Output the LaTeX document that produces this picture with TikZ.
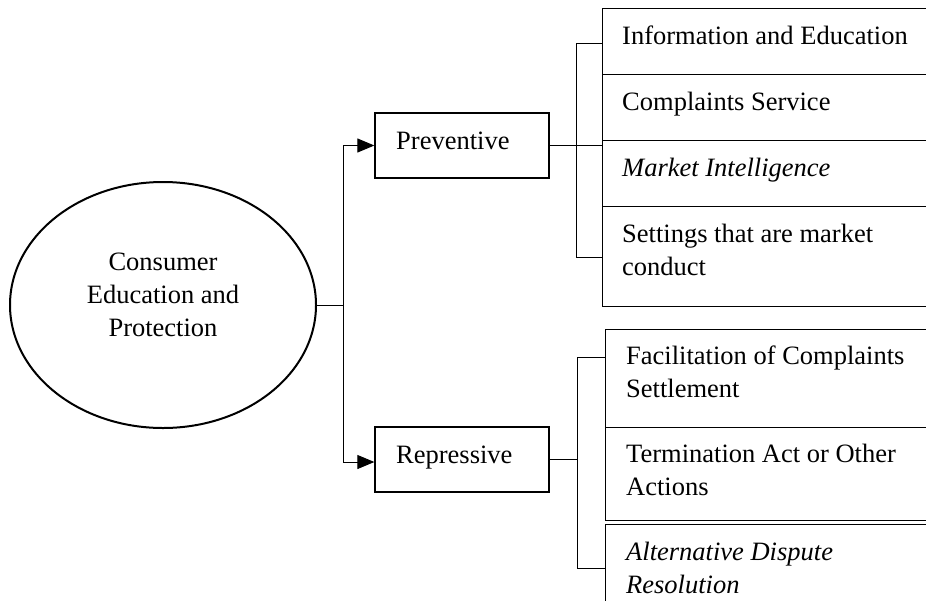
\documentclass[tikz,border=0pt]{standalone}
\usepackage{fontspec}
\setmainfont{Liberation Serif}
\usetikzlibrary{arrows.meta,shapes.geometric}
\newcommand{\mlines}[2][l]{\begin{tabular}[t]{@{}#1@{}}#2\end{tabular}}
\begin{document}
\begin{tikzpicture}[x=1pt,y=-1pt,
  frame/.style={draw, line width=1.3pt, rectangle, inner sep=0pt, anchor=north west, minimum width=345pt},
  mainbox/.style={draw, line width=1.3pt, rectangle, inner sep=0pt, minimum width=174pt, minimum height=65pt},
  lbl/.style={inner sep=0pt, font=\fontsize{26.5}{33}\selectfont},
  conn/.style={draw, line width=1pt},
  arr/.style={-{Triangle[length=17pt,width=14pt]}}]
\useasboundingbox (0,0) rectangle (926,600);
\fill[white] (0,0) rectangle (926,600);
\clip (0,0) rectangle (926,600);

% central ellipse
\node[draw, ellipse, line width=2pt, minimum width=306pt, minimum height=246pt, inner sep=0pt] (ce) at (163,305) {};
\node[lbl, anchor=base] (cet) at (163,270) {\mlines[c]{Consumer\\Education and\\Protection}};

% middle boxes
\node[mainbox] (pv) at (462,145.5) {};
\node[lbl, anchor=base west] (pvt) at (396,149) {Preventive};
\node[mainbox] (rp) at (462,459.5) {};
\node[lbl, anchor=base west] (rpt) at (396,463) {Repressive};

% preventive group
\node[frame, minimum height=66pt] (b1) at (602,8) {};
\node[frame, minimum height=66pt] (b2) at (602,74) {};
\node[frame, minimum height=66pt] (b3) at (602,140) {};
\node[frame, minimum height=100pt] (b4) at (602,206) {};
\node[lbl, anchor=base west] (t1) at (622,44) {Information and Education};
\node[lbl, anchor=base west] (t2) at (622,110) {Complaints Service};
\node[lbl, anchor=base west] (t3) at (622,176) {\itshape Market Intelligence};
\node[lbl, anchor=base west] (t4) at (622,242) {\mlines{Settings that are market\\conduct}};

% repressive group
\node[frame, minimum height=98pt] (c1) at (605,329) {};
\node[frame, minimum height=93pt] (c2) at (605,427) {};
\node[frame, minimum height=92pt] (c3) at (605,524) {};
\node[lbl, anchor=base west] (u1) at (626,364) {\mlines{Facilitation of Complaints\\Settlement}};
\node[lbl, anchor=base west] (u2) at (626,462) {\mlines{Termination Act or Other\\Actions}};
\node[lbl, anchor=base west] (u3) at (626,560) {\mlines{\itshape Alternative Dispute\\\itshape Resolution}};

% connectors from ellipse
\coordinate (j0) at (343,305);
\coordinate (jt) at (343,145.5);
\coordinate (jb) at (343,462);
\draw[conn] (ce.east) -- (j0);
\draw[conn] (jt) -- (jb);
\draw[conn, arr] (jt) -- (pv.west);
\draw[conn, arr] (jb) -- (jb -| rp.west);

% preventive bracket
\coordinate (pt) at (576,43);
\coordinate (pb) at (576,257);
\draw[conn] (pt) -- (pb);
\draw[conn] (pt) -- (pt -| b1.west);
\draw[conn] (pb) -- (pb -| b4.west);
\draw[conn] (pv.east) -- (pv.east -| b3.west);

% repressive bracket
\coordinate (qt) at (577,357);
\coordinate (qb) at (577,568);
\draw[conn] (qt) -- (qb);
\draw[conn] (qt) -- (qt -| c1.west);
\draw[conn] (qb) -- (qb -| c3.west);
\draw[conn] (rp.east) -- (rp.east -| qt);
\end{tikzpicture}
\end{document}
